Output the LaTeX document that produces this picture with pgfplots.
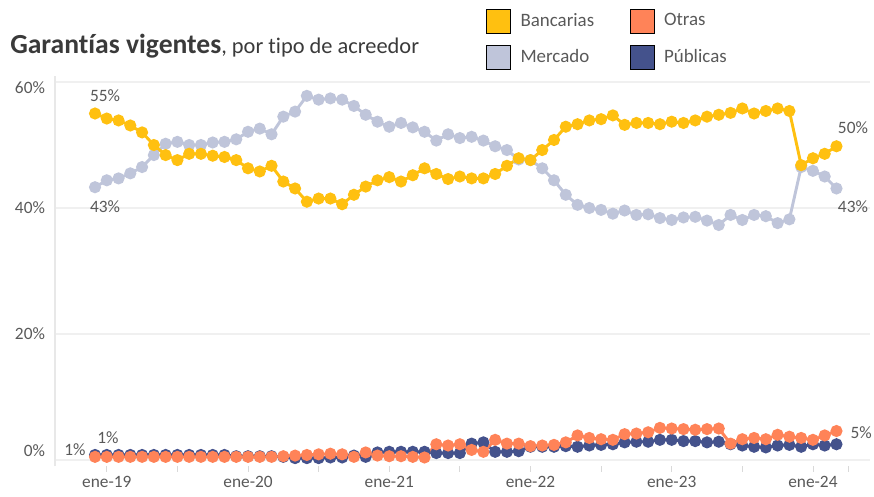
\documentclass[border=0pt]{standalone}
\usepackage{pgfplots}
\pgfplotsset{compat=1.18}
\usepackage{pgfplotstable}
\usepackage{fontspec}
\setmainfont{Carlito}[Ligatures=NoCommon]

\definecolor{banc}{HTML}{FFC010}
\definecolor{merc}{HTML}{BFC5DA}
\definecolor{otr}{HTML}{FF8358}
\definecolor{pub}{HTML}{44528C}
\definecolor{txtgray}{HTML}{595959}
\definecolor{titlegray}{HTML}{3A3A3A}

% month index (0 = ene-19), shares in %
\pgfplotstableread{
m   banc  merc  otr  pub
-1  55.0  43.3  0.5  0.8
0   54.2  44.4  0.5  0.8
1   53.9  44.7  0.5  0.8
2   53.1  45.5  0.5  0.8
3   52.0  46.5  0.5  0.8
4   50.0  48.4  0.5  0.8
5   48.4  50.2  0.5  0.8
6   47.6  50.5  0.5  0.8
7   48.6  50.0  0.5  0.8
8   48.6  50.0  0.5  0.8
9   48.3  50.4  0.5  0.8
10  48.1  50.5  0.5  0.8
11  47.6  50.9  0.5  0.6
12  46.3  52.1  0.5  0.6
13  45.8  52.6  0.5  0.6
14  46.7  51.7  0.5  0.6
15  44.2  54.5  0.6  0.5
16  43.1  55.3  0.7  0.3
17  41.0  57.8  0.8  0.3
18  41.5  57.2  0.9  0.3
19  41.5  57.4  1.0  0.4
20  40.6  57.2  0.9  0.4
21  42.1  56.2  0.5  0.7
22  43.4  54.8  1.2  0.5
23  44.4  53.7  0.7  1.2
24  44.9  52.9  0.6  1.3
25  44.2  53.5  0.6  1.3
26  45.2  52.8  0.5  1.3
27  46.3  52.1  0.4  1.3
28  45.4  50.7  2.5  1.1
29  44.6  51.7  2.3  1.1
30  45.0  51.1  2.5  1.1
31  44.7  51.3  1.6  2.6
32  44.7  50.7  1.3  2.8
33  45.4  49.8  3.2  1.3
34  46.7  49.2  2.6  1.3
35  47.9  47.7  2.6  1.4
36  47.6  47.6  2.2  2.1
37  49.2  46.3  2.3  2.1
38  50.8  44.4  2.4  2.1
39  52.9  42.1  2.8  2.2
40  53.3  40.5  3.9  2.1
41  53.9  40.0  3.5  2.3
42  54.1  39.7  3.3  2.4
43  54.7  39.1  3.2  2.5
44  53.2  39.6  4.1  2.8
45  53.5  38.9  4.2  2.9
46  53.5  39.0  4.4  2.9
47  53.3  38.4  5.1  3.2
48  53.7  38.1  5.0  3.2
49  53.5  38.5  4.9  3.0
50  53.9  38.6  4.8  3.0
51  54.5  38.0  4.9  2.8
52  54.8  37.3  5.0  2.9
53  55.1  38.9  2.6  2.5
54  55.8  38.1  3.3  2.3
55  55.0  38.9  3.5  2.1
56  55.4  38.7  3.3  2.0
57  55.8  37.6  4.0  2.3
58  55.4  38.2  3.7  2.4
59  46.8  46.5  3.5  2.1
60  47.9  45.9  3.2  2.5
61  48.6  45.0  3.9  2.3
62  49.8  43.1  4.6  2.5
}\datatable

\begin{document}
\begin{tikzpicture}[x=0.75pt,y=0.75pt]
\useasboundingbox (0,0) rectangle (874,496);

\node[anchor=west, inner sep=0pt, text=titlegray] at (10,450)
  {\fontsize{20.7}{23}\selectfont\bfseries Garantías vigentes\mdseries\fontsize{16.8}{19}\selectfont, por tipo de acreedor};

\begin{axis}[
  at={(41.25pt,22.275pt)}, anchor=south west,
  scale only axis, width=611.25pt, height=292.95pt,
  xmin=-4.4, xmax=64.85, ymin=-1, ymax=61,
  clip=false,
  axis y line*=left, axis x line*=bottom,
  x axis line style={draw=none},
  y axis line style={draw=gray!18, line width=0.8pt},
  ytick={0,20,40,60},
  yticklabels={{},{20\%},{40\%},{}},
  extra y ticks={1.45,59.05},
  extra y tick labels={{0\%},{60\%}},
  extra y tick style={grid=none},
  ymajorgrids, grid style={gray!12, line width=1pt},
  y tick style={draw=none},
  xtick={0,12,24,36,48,60},
  xticklabels={ene-19,ene-20,ene-21,ene-22,ene-23,ene-24},
  minor xtick={-6,6,18,30,42,54,63},
  tick align=outside,
  major tick length=4pt, minor tick length=4pt,
  x tick style={draw=gray!30, line width=0.6pt},
  every tick label/.append style={font=\fontsize{13}{15}\selectfont, text=txtgray},
  legend columns=2,
  legend cell align=left,
  legend image code/.code={\fill[#1] (0pt,-9pt) rectangle (18pt,9pt);},
  legend style={at={(rel axis cs:0.5285,1.1726)}, anchor=north west,
    draw=none, fill=none, inner sep=0pt,
    font=\fontsize{14.2}{16}\selectfont, text=txtgray,
    nodes={inner sep=0pt},
    /tikz/every odd column/.append style={column sep=7.5pt},
    /tikz/every even column/.append style={column sep=26.5pt},
    row sep=9pt},
]
\addplot[merc, line width=2.2pt, mark=*, mark size=3.4pt, forget plot] table[x=m, y=merc] {\datatable};
\addplot[pub, line width=2.2pt, mark=*, mark size=3.4pt, forget plot] table[x=m, y=pub] {\datatable};
\addplot[otr, line width=2.2pt, mark=*, mark size=3.4pt, forget plot] table[x=m, y=otr] {\datatable};
\addplot[banc, line width=2.2pt, mark=*, mark size=3.4pt, forget plot] table[x=m, y=banc] {\datatable};

\addlegendimage{fill=banc}\addlegendentry{Bancarias}
\addlegendimage{fill=otr}\addlegendentry{Otras}
\addlegendimage{fill=merc}\addlegendentry{Mercado}
\addlegendimage{fill=pub}\addlegendentry{Públicas}

\begin{scope}[every node/.style={font=\fontsize{13}{15}\selectfont, text=txtgray, inner sep=0pt}]
\node at (axis cs:-0.15,57.9) {55\%};
\node at (axis cs:-0.15,40.2) {43\%};
\node at (axis cs:0.1,3.5) {1\%};
\node at (axis cs:-2.7,1.6) {1\%};
\node at (axis cs:63.4,52.7) {50\%};
\node at (axis cs:63.4,40.2) {43\%};
\node at (axis cs:64.1,4.4) {5\%};
\end{scope}
\end{axis}
\end{tikzpicture}
\end{document}
